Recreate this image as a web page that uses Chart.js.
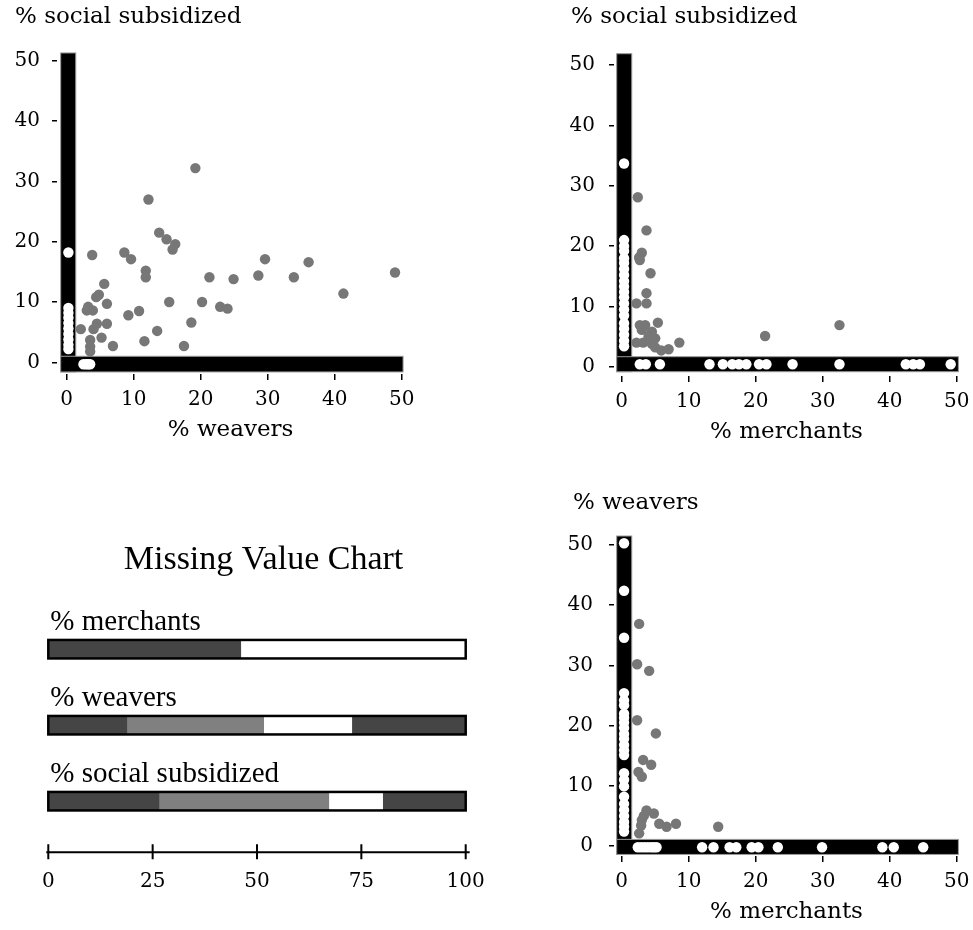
<!DOCTYPE html>
<html>
<head>
<meta charset="utf-8">
<script src="https://cdn.jsdelivr.net/npm/chart.js@4.4.0/dist/chart.umd.min.js"></script>
<style>
  html, body { margin: 0; padding: 0; background: #fff; overflow: hidden; }
  #page { position: relative; width: 973px; height: 930px; overflow: hidden; }
  canvas { position: absolute; }
</style>
</head>
<body>
<div id="page">
  <canvas id="weaversSocial" width="440" height="448" style="left:0px;top:0px"></canvas>
  <canvas id="merchantsSocial" width="445" height="450" style="left:540px;top:0px"></canvas>
  <canvas id="missingChart" width="520" height="400" style="left:0px;top:530px"></canvas>
  <canvas id="merchantsWeavers" width="445" height="460" style="left:540px;top:470px"></canvas>
</div>
<script>
const AXIS_TICKS = [0, 10, 20, 30, 40, 50];

// % weavers (x) vs % social subsidized (y), both observed
const wsWeavers = [19.2, 12.2, 13.8, 14.9, 16.2, 15.8, 3.8, 8.6, 9.6, 11.8, 11.8, 21.3, 24.9, 29.6, 28.6,
  33.9, 36.1, 41.3, 49.0, 5.6, 4.8, 4.4, 6.0, 15.3, 20.2, 22.9, 24.0, 3.2, 3.0, 3.9, 10.8, 9.2, 18.6,
  4.5, 6.0, 2.1, 4.0, 5.2, 13.5, 11.6, 6.9, 17.5, 3.5, 3.5, 3.5];
const wsSocial = [32.2, 27.0, 21.5, 20.4, 19.6, 18.7, 17.8, 18.2, 17.1, 15.2, 14.1, 14.1, 13.8, 17.1, 14.4,
  14.1, 16.6, 11.4, 14.9, 13.0, 11.2, 10.8, 9.7, 10.0, 10.0, 9.2, 8.9, 9.2, 8.6, 8.6, 8.5, 7.8, 6.6,
  6.4, 6.4, 5.5, 5.5, 4.1, 5.2, 3.5, 2.7, 2.7, 3.7, 2.6, 1.8];
// social observed, weavers missing
const wsSocialOnly = [18.2, 9.0, 8.2, 7.4, 6.5, 5.6, 4.7, 3.8, 2.9, 2.2];
// weavers observed, social missing
const wsWeaversOnly = [2.5, 2.9, 3.2, 3.5];

// % merchants (x) vs % social subsidized (y)
const msMerchants = [2.4, 3.7, 3.0, 2.6, 2.7, 4.3, 3.7, 2.2, 3.7, 5.4, 2.7, 3.5, 3.0, 4.5, 4.0, 5.0,
  2.2, 3.2, 4.5, 5.0, 5.9, 7.0, 8.6, 21.4, 32.5];
const msSocial = [28.1, 22.6, 18.9, 18.1, 17.7, 15.5, 12.2, 10.5, 10.5, 7.3, 6.9, 6.9, 6.1, 5.8, 5.0, 4.7,
  4.0, 4.0, 3.8, 3.2, 2.7, 2.9, 4.0, 5.1, 6.9];
const msSocialOnly = [33.7, 21.0, 20.0, 19.2, 18.0, 17.2, 16.2, 15.2, 14.2, 13.3, 12.4, 11.5, 10.5, 9.5,
  8.5, 7.2, 6.3, 5.3, 4.3, 3.4];
const msMerchantsOnly = [2.7, 3.6, 5.7, 13.1, 15.1, 16.5, 17.5, 18.6, 20.5, 21.6, 25.5, 32.5, 42.4, 43.5,
  44.5, 49.1];

// % merchants (x) vs % weavers (y)
const mwMerchants = [2.6, 2.3, 4.1, 2.3, 5.1, 3.2, 4.4, 2.5, 3.0, 3.7, 4.8, 3.3, 3.0, 2.9, 2.6, 5.6, 6.7,
  8.1, 14.4];
const mwWeavers = [36.9, 30.2, 29.1, 20.9, 18.7, 14.3, 13.5, 12.3, 11.5, 5.9, 5.4, 5.0, 4.3, 3.4, 2.1, 3.7,
  3.2, 3.7, 3.2];
const mwWeaversOnly = [50.3, 42.4, 34.6, 25.4, 24.2, 23.4, 22.0, 21.3, 20.5, 19.6, 18.6, 17.8, 16.8, 15.9,
  15.1, 12.1, 11.0, 9.9, 8.2, 7.0, 6.0, 5.0, 4.0, 3.2, 2.4];
const mwMerchantsOnly = [2.4, 2.9, 3.4, 3.9, 4.4, 4.8, 5.2, 12.0, 13.7, 16.1, 17.1, 19.4, 20.4, 23.3, 29.9,
  38.9, 40.6, 45.0];

// missing value chart (percent of cases)
const mvVariables = ['% merchants', '% weavers', '% social subsidized'];
const mvObserved = [46.1, 18.8, 26.5];
const mvGrey = [0, 32.8, 40.7];
const mvMissing = [53.9, 21.1, 12.9];
const mvObservedEnd = [0, 27.3, 19.9];
const mvTicks = [0, 25, 50, 75, 100];

const SERIF = '"DejaVu Serif", serif';
const LABEL_SERIF = '"Liberation Serif", serif';
const GREY_POINT = '#777777';

function marginPlot(id, o) {
  // black margins that hold the cases with one value missing
  const bars = {
    id: 'missingBars',
    beforeDatasetsDraw(chart) {
      const {ctx, scales: {x, y}} = chart;
      ctx.save();
      ctx.fillStyle = '#000';
      ctx.strokeStyle = '#9a9a9a';
      ctx.lineWidth = 1;
      [o.vBar, o.hBar].forEach(b => {
        const l = x.getPixelForValue(b[0]), r = x.getPixelForValue(b[1]);
        const t = y.getPixelForValue(b[3]), bt = y.getPixelForValue(b[2]);
        ctx.fillRect(l, t, r - l, bt - t);
        ctx.strokeRect(l, t, r - l, bt - t);
      });
      ctx.restore();
    },
    // y variable name, top left above the axis
    afterDraw(chart) {
      const ctx = chart.ctx;
      ctx.save();
      ctx.font = '23px ' + SERIF;
      ctx.fillStyle = '#000';
      ctx.textAlign = 'left';
      ctx.textBaseline = 'middle';
      ctx.fillText(o.title, o.titleAt[0], o.titleAt[1]);
      ctx.restore();
    }
  };
  new Chart(document.getElementById(id), {
    type: 'scatter',
    data: {
      datasets: [
        { data: o.xs.map((v, i) => ({ x: v, y: o.ys[i] })), backgroundColor: GREY_POINT },
        { data: o.yOnly.map(v => ({ x: o.missAt[0], y: v })), backgroundColor: '#fff' },
        { data: o.xOnly.map(v => ({ x: v, y: o.missAt[1] })), backgroundColor: '#fff' }
      ]
    },
    options: {
      responsive: false,
      animation: false,
      events: [],
      elements: { point: { radius: 5.2, borderWidth: 0 } },
      layout: { padding: { left: 0, right: o.padRight, top: o.padTop, bottom: 0 } },
      plugins: {
        legend: { display: false },
        tooltip: { enabled: false },
        title: { display: false }
      },
      scales: {
        x: {
          type: 'linear', position: 'bottom', min: o.x[0], max: o.x[1],
          afterBuildTicks: s => { s.ticks = AXIS_TICKS.map(v => ({ value: v })); },
          afterFit: s => { s.height = 74; },
          border: { display: false },
          grid: { drawOnChartArea: false, drawTicks: true, tickLength: 6, color: '#000', lineWidth: 1.5 },
          ticks: { color: '#000', font: { family: SERIF, size: 20 }, padding: 8, maxRotation: 0, autoSkip: false },
          title: {
            display: true, text: o.xTitle, color: '#000',
            font: { family: SERIF, size: 23, weight: 'normal' }, padding: { top: 0, bottom: 4.2 }
          }
        },
        y: {
          type: 'linear', min: o.y[0], max: o.y[1],
          afterBuildTicks: s => { s.ticks = AXIS_TICKS.map(v => ({ value: v })); },
          afterFit: s => { s.width = o.yAxisWidth; },
          border: { display: false },
          grid: { drawOnChartArea: false, drawTicks: true, tickLength: 5, color: '#000', lineWidth: 1.5 },
          ticks: { color: '#000', font: { family: SERIF, size: 20 }, padding: o.yTickPad }
        }
      }
    },
    plugins: [bars]
  });
}

marginPlot('weaversSocial', {
  title: '% social subsidized', titleAt: [15, 17], xTitle: '% weavers',
  x: [-1.45, 50.34], y: [-1.94, 51.49],
  padTop: 51.8, padRight: 36, yAxisWidth: 57, yTickPad: 12,
  vBar: [-0.9, 1.35, -1.6, 51.3], hBar: [-0.9, 50.2, -1.6, 1.0], missAt: [0.25, -0.33],
  xs: wsWeavers, ys: wsSocial, yOnly: wsSocialOnly, xOnly: wsWeaversOnly
});

marginPlot('merchantsSocial', {
  title: '% social subsidized', titleAt: [31, 17], xTitle: '% merchants',
  x: [-1.15, 50.34], y: [-1.54, 52.0],
  padTop: 53.1, padRight: 26, yAxisWidth: 74, yTickPad: 14,
  vBar: [-0.75, 1.5, -0.83, 51.9], hBar: [-0.75, 50.25, -0.83, 1.66], missAt: [0.35, 0.4],
  xs: msMerchants, ys: msSocial, yOnly: msSocialOnly, xOnly: msMerchantsOnly
});

marginPlot('merchantsWeavers', {
  title: '% weavers', titleAt: [33, 33.3], xTitle: '% merchants',
  x: [-1.15, 50.34], y: [-1.66, 51.8],
  padTop: 64.2, padRight: 26, yAxisWidth: 74, yTickPad: 16,
  vBar: [-0.75, 1.5, -1.4, 51.5], hBar: [-0.75, 50.25, -1.4, 1.1], missAt: [0.35, -0.2],
  xs: mwMerchants, ys: mwWeavers, yOnly: mwWeaversOnly, xOnly: mwMerchantsOnly
});

// outline, labels and axis for the missing value bars
const mvDecor = {
  id: 'mvDecor',
  afterDatasetsDraw(chart) {
    const { ctx, scales: { x } } = chart;
    const first = chart.getDatasetMeta(0).data;
    const last = chart.getDatasetMeta(chart.data.datasets.length - 1).data;
    ctx.save();
    first.forEach((bar, i) => {
      const left = bar.base, right = last[i].x;
      const top = bar.y - bar.height / 2;
      ctx.lineWidth = 2.5;
      ctx.strokeStyle = '#000';
      ctx.strokeRect(left, top, right - left, bar.height);
      ctx.fillStyle = '#000';
      ctx.font = '29px ' + LABEL_SERIF;
      ctx.textAlign = 'left';
      ctx.textBaseline = 'alphabetic';
      ctx.fillText(mvVariables[i], left + 2, top - 10);
    });
    const yLine = chart.chartArea.bottom + 13;
    ctx.lineWidth = 2;
    ctx.beginPath();
    ctx.moveTo(x.getPixelForValue(mvTicks[0]) - 2, yLine);
    ctx.lineTo(x.getPixelForValue(mvTicks[mvTicks.length - 1]) + 4, yLine);
    x.ticks.forEach(t => {
      const px = x.getPixelForValue(t.value);
      ctx.moveTo(px, yLine - 8);
      ctx.lineTo(px, yLine + 7);
    });
    ctx.stroke();
    ctx.restore();
  }
};

const mvSegments = [
  [mvObserved, '#454545'],
  [mvGrey, '#808080'],
  [mvMissing, '#ffffff'],
  [mvObservedEnd, '#454545']
];

new Chart(document.getElementById('missingChart'), {
  type: 'bar',
  data: {
    labels: mvVariables,
    datasets: mvSegments.map(([vals, col]) => ({
      data: vals, backgroundColor: col, borderWidth: 0, barThickness: 18.5
    }))
  },
  options: {
    indexAxis: 'y',
    responsive: false,
    animation: false,
    events: [],
    layout: { padding: { left: 48.3, right: 41.3, top: 0, bottom: 0 } },
    plugins: {
      legend: { display: false },
      tooltip: { enabled: false },
      title: {
        display: true, text: 'Missing Value Chart', color: '#000',
        font: { family: LABEL_SERIF, size: 34, weight: 'normal' },
        padding: { top: 9.6, bottom: 30.8 }
      }
    },
    scales: {
      x: {
        stacked: true, min: 0, max: 100,
        afterBuildTicks: s => { s.ticks = mvTicks.map(v => ({ value: v })); },
        afterFit: s => { s.height = 90.8; },
        border: { display: false },
        grid: { display: false, drawTicks: false },
        ticks: { color: '#000', font: { family: SERIF, size: 20 }, padding: 30.8, maxRotation: 0, autoSkip: false }
      },
      y: {
        stacked: true, position: 'right',
        afterFit: s => { s.width = 13; },
        border: { display: false },
        grid: { display: false, drawTicks: false },
        ticks: { display: false }
      }
    }
  },
  plugins: [mvDecor]
});
</script>
</body>
</html>
